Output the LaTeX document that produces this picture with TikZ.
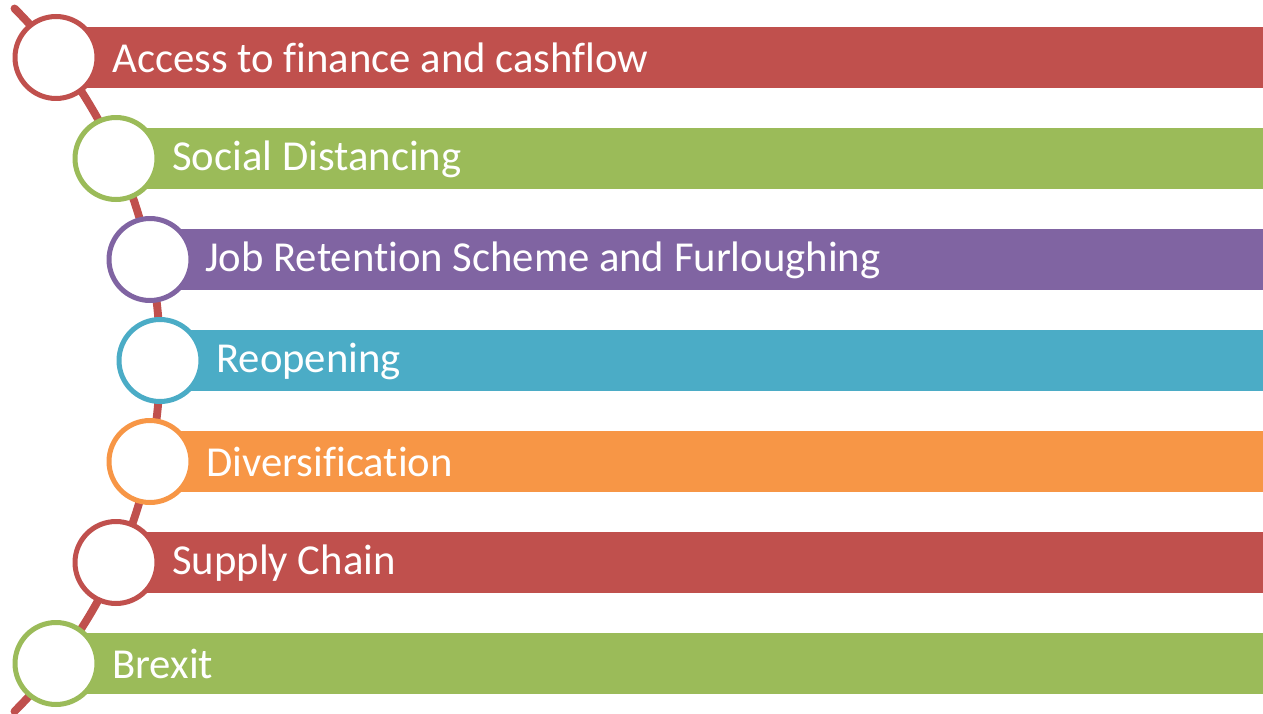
\documentclass[tikz,border=0pt]{standalone}
\usepackage{fontspec}
\setmainfont{Carlito}[Ligatures=NoCommon]
\definecolor{tred}{HTML}{C0504D}
\definecolor{tgreen}{HTML}{9BBB59}
\definecolor{tpurple}{HTML}{8064A2}
\definecolor{tteal}{HTML}{4BACC6}
\definecolor{torange}{HTML}{F79646}

\begin{document}
\begin{tikzpicture}[x=0.02cm,y=-0.02cm]
\tikzstyle{every node}+=[inner sep=0pt]
\tikzstyle{ring}=[circle,fill=white,line width=2.85pt,minimum size=1.64cm]
\tikzstyle{label}=[anchor=west,text=white,font=\fontsize{24.3}{29}\selectfont]
\useasboundingbox (0,0) rectangle (1263,713);
% the spine
\coordinate (top) at (14.5,8.5);
\draw [tred,line width=4.5pt,line cap=round] (top) arc[start angle=-45,end angle=45,radius=497];
% bars
\fill [tred] (57,27) rectangle (1263,88);
\fill [tgreen] (116,128) rectangle (1263,189);
\fill [tpurple] (150,229) rectangle (1263,290);
\fill [tteal] (160,330) rectangle (1263,391);
\fill [torange] (150,431) rectangle (1263,492);
\fill [tred] (116,532) rectangle (1263,593);
\fill [tgreen] (57,633) rectangle (1263,694);
% rings
\node [ring,draw=tred] (c1) at (56,57.5) {};
\node [ring,draw=tgreen] (c2) at (116,158.5) {};
\node [ring,draw=tpurple] (c3) at (150,259.5) {};
\node [ring,draw=tteal] (c4) at (160,360.5) {};
\node [ring,draw=torange] (c5) at (150,461.5) {};
\node [ring,draw=tred] (c6) at (116,562.5) {};
\node [ring,draw=tgreen] (c7) at (56,663.5) {};
% texts
\node [label] (t1) at (112,58) {Access to finance and cashflow};
\node [label] (t2) at (172,159) {Social Distancing};
\node [label] (t3) at (205,260) {Job Retention Scheme and Furloughing};
\node [label] (t4) at (216,361) {Reopening};
\node [label] (t5) at (206,462) {Diversification};
\node [label] (t6) at (172,563) {Supply Chain};
\node [label] (t7) at (112,664) {Brexit};
\end{tikzpicture}
\end{document}
